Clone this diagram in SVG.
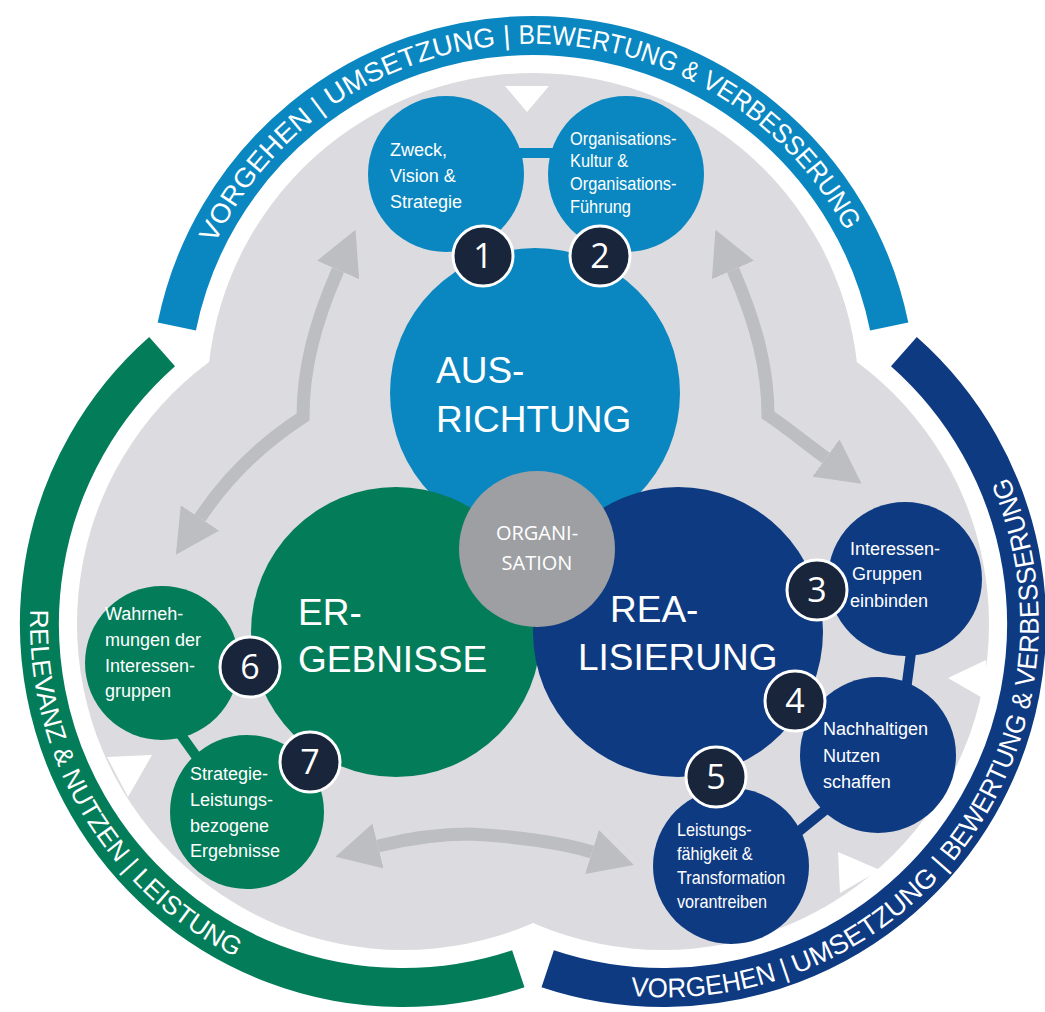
<svg xmlns="http://www.w3.org/2000/svg" width="1045" height="1012" viewBox="0 0 1045 1012">
<defs>
<style>
.bg{fill:#dcdce0}
.lb{fill:#0a87c0}
.db{fill:#0e3a82}
.gr{fill:#037c59}
.band{fill:none;stroke-width:39}
.arr{fill:none;stroke:#bdbec2;stroke-width:13}
.bar{stroke-width:10;fill:none}
.tri{fill:#ffffff}
.arct{font-family:"Liberation Sans",Arial,sans-serif;font-size:27px;fill:#ffffff}
.arcl{font-family:"Liberation Sans",Arial,sans-serif;font-size:26px;fill:#ffffff}
.big{font-family:"Liberation Sans",Arial,sans-serif;font-size:37px;fill:#ffffff}
.sm{font-family:"Liberation Sans",Arial,sans-serif;font-size:18px;fill:#ffffff}
.org{font-family:"Open Sans","Liberation Sans",sans-serif;font-size:20px;fill:#ffffff;text-anchor:middle}
.badge{fill:#18253a;stroke:#ffffff;stroke-width:3}
.num{font-family:"Open Sans","Liberation Sans",sans-serif;font-size:34px;fill:#ffffff;text-anchor:middle}
</style>
<marker id="ah" markerUnits="userSpaceOnUse" markerWidth="46" markerHeight="46" refX="0" refY="22" orient="auto-start-reverse" viewBox="0 0 44 44">
<path d="M0,0 L42,22 L0,44 Z" fill="#bdbec2"/>
</marker>
<path id="tpTop" d="M209.6,255 A354,354 0 0 1 870,288"/>
<path id="tpRight" d="M617.5,994.2 A373,373 0 0 0 1001,461"/>
<path id="tpLeft" d="M30.9,598 A373,373 0 0 0 275,974"/>
</defs>

<g id="background">
<circle class="bg" cx="533" cy="399" r="326"/>
<circle class="bg" cx="663" cy="624" r="326"/>
<circle class="bg" cx="403" cy="624" r="326"/>
</g>

<g id="arc-top">
<path class="band" stroke="#0a87c0" d="M176.8,326.5 A363.5,363.5 0 0 1 889.2,326.5"/>
<text class="arct"><textPath href="#tpTop" startOffset="12.4" textLength="174.6" lengthAdjust="spacingAndGlyphs">VORGEHEN |</textPath></text>
<text class="arct"><textPath href="#tpTop" startOffset="194.8" textLength="191.6" lengthAdjust="spacingAndGlyphs">UMSETZUNG |</textPath></text>
<text class="arct"><textPath href="#tpTop" startOffset="394.2" textLength="181.8" lengthAdjust="spacingAndGlyphs">BEWERTUNG &amp;</textPath></text>
<text class="arct"><textPath href="#tpTop" startOffset="582.8" textLength="208.4" lengthAdjust="spacingAndGlyphs">VERBESSERUNG</textPath></text>
</g>
<g id="arc-right">
<path class="band" stroke="#0e3a82" d="M903.9,351.7 A363.5,363.5 0 0 1 547.7,968.7"/>
<text class="arct"><textPath href="#tpRight" startOffset="13" textLength="162.1" lengthAdjust="spacingAndGlyphs">VORGEHEN |</textPath></text>
<text class="arct"><textPath href="#tpRight" startOffset="181.4" textLength="188.3" lengthAdjust="spacingAndGlyphs">UMSETZUNG |</textPath></text>
<text class="arct"><textPath href="#tpRight" startOffset="376" textLength="188.3" lengthAdjust="spacingAndGlyphs">BEWERTUNG &amp;</textPath></text>
<text class="arct"><textPath href="#tpRight" startOffset="570.5" textLength="215.5" lengthAdjust="spacingAndGlyphs">VERBESSERUNG</textPath></text>
</g>
<g id="arc-left">
<path class="band" stroke="#037c59" d="M518.3,968.7 A363.5,363.5 0 0 1 162.1,351.7"/>
<text class="arcl"><textPath href="#tpLeft" startOffset="11.7" textLength="161.6" lengthAdjust="spacingAndGlyphs">RELEVANZ &amp;</textPath></text>
<text class="arcl"><textPath href="#tpLeft" startOffset="180.5" textLength="119.3" lengthAdjust="spacingAndGlyphs">NUTZEN |</textPath></text>
<text class="arcl"><textPath href="#tpLeft" startOffset="307" textLength="131" lengthAdjust="spacingAndGlyphs">LEISTUNG</textPath></text>
</g>

<g id="triangles">
<polygon class="tri" points="505,86 549,86 527,112"/>
<polygon class="tri" points="948,678 986,660 986,700"/>
<polygon class="tri" points="838,852 840,893 880,870"/>
<polygon class="tri" points="107,757 152,755 128,797"/>
</g>

<g id="connectors">
<path class="arr" marker-start="url(#ah)" marker-end="url(#ah)" d="M338,270 C314,325 303,370 303,417 C260,445 225,480 200,518"/>
<path class="arr" marker-start="url(#ah)" marker-end="url(#ah)" d="M733,270 C757,325 768,370 768,415 C790,430 808,445 826,458"/>
<path class="arr" marker-start="url(#ah)" marker-end="url(#ah)" d="M378,846 C410,838 440,834 470,834 C510,836 560,842 592,852"/>
<line class="bar" stroke="#0a87c0" x1="515" y1="153" x2="557" y2="153"/>
<line class="bar" stroke="#0e3a82" x1="912" y1="645" x2="906" y2="690"/>
<line class="bar" stroke="#0e3a82" stroke-width="12" x1="830" y1="806" x2="798" y2="832"/>
<line class="bar" stroke="#037c59" x1="176" y1="728" x2="196" y2="756"/>
</g>

<g id="ausrichtung">
<circle class="lb" cx="535" cy="393" r="145"/>
<text class="big" x="436" y="383">AUS-</text>
<text class="big" x="436" y="432">RICHTUNG</text>
</g>
<g id="ergebnisse">
<circle class="gr" cx="396" cy="632" r="145"/>
<text class="big" x="298" y="625">ER-</text>
<text class="big" x="298" y="672">GEBNISSE</text>
</g>
<g id="realisierung">
<circle class="db" cx="678" cy="632" r="145"/>
<text class="big" x="610" y="622">REA-</text>
<text class="big" x="578" y="670">LISIERUNG</text>
</g>
<g id="organisation">
<circle fill="#9d9fa2" cx="537" cy="549" r="78"/>
<text class="org" x="537" y="540">ORGANI-</text>
<text class="org" x="537" y="570">SATION</text>
</g>

<g id="node1">
<circle class="lb" cx="446" cy="174" r="78"/>
<text class="sm" x="390" y="156">Zweck,</text>
<text class="sm" x="390" y="182">Vision &amp;</text>
<text class="sm" x="390" y="208">Strategie</text>
</g>
<g id="node2">
<circle class="lb" cx="626" cy="174" r="78"/>
<g transform="translate(570,0) scale(0.91,1)">
<text class="sm" x="0" y="145">Organisations-</text>
<text class="sm" x="0" y="167">Kultur &amp;</text>
<text class="sm" x="0" y="190">Organisations-</text>
<text class="sm" x="0" y="213">Führung</text>
</g>
</g>
<g id="node3">
<circle class="db" cx="905" cy="579" r="77"/>
<text class="sm" x="850" y="555">Interessen-</text>
<text class="sm" x="852" y="580">Gruppen</text>
<text class="sm" x="850" y="607">einbinden</text>
</g>
<g id="node4">
<circle class="db" cx="878" cy="755" r="78"/>
<text class="sm" x="823" y="735">Nachhaltigen</text>
<text class="sm" x="823" y="762">Nutzen</text>
<text class="sm" x="823" y="788">schaffen</text>
</g>
<g id="node5">
<circle class="db" cx="731" cy="866" r="78"/>
<g transform="translate(677,0) scale(0.9,1)">
<text class="sm" x="0" y="836">Leistungs-</text>
<text class="sm" x="0" y="860">fähigkeit &amp;</text>
<text class="sm" x="0" y="884">Transformation</text>
<text class="sm" x="0" y="908">vorantreiben</text>
</g>
</g>
<g id="node6">
<circle class="gr" cx="162" cy="663" r="77"/>
<text class="sm" x="105" y="620">Wahrneh-</text>
<text class="sm" x="105" y="646">mungen der</text>
<text class="sm" x="105" y="672">Interessen-</text>
<text class="sm" x="105" y="697">gruppen</text>
</g>
<g id="node7">
<circle class="gr" cx="247" cy="812" r="77"/>
<text class="sm" x="190" y="780">Strategie-</text>
<text class="sm" x="190" y="806">Leistungs-</text>
<text class="sm" x="190" y="832">bezogene</text>
<text class="sm" x="190" y="857">Ergebnisse</text>
</g>

<g id="badges">
<g id="badge1"><circle class="badge" cx="483" cy="256" r="30"/><text class="num" x="483" y="268">1</text></g>
<g id="badge2"><circle class="badge" cx="600" cy="256" r="30"/><text class="num" x="600" y="268">2</text></g>
<g id="badge3"><circle class="badge" cx="817" cy="590" r="30"/><text class="num" x="817" y="602">3</text></g>
<g id="badge4"><circle class="badge" cx="795" cy="701" r="30"/><text class="num" x="795" y="713">4</text></g>
<g id="badge5"><circle class="badge" cx="716" cy="777" r="30"/><text class="num" x="716" y="789">5</text></g>
<g id="badge6"><circle class="badge" cx="250" cy="667" r="30"/><text class="num" x="250" y="679">6</text></g>
<g id="badge7"><circle class="badge" cx="310" cy="762" r="30"/><text class="num" x="310" y="774">7</text></g>
</g>
</svg>
